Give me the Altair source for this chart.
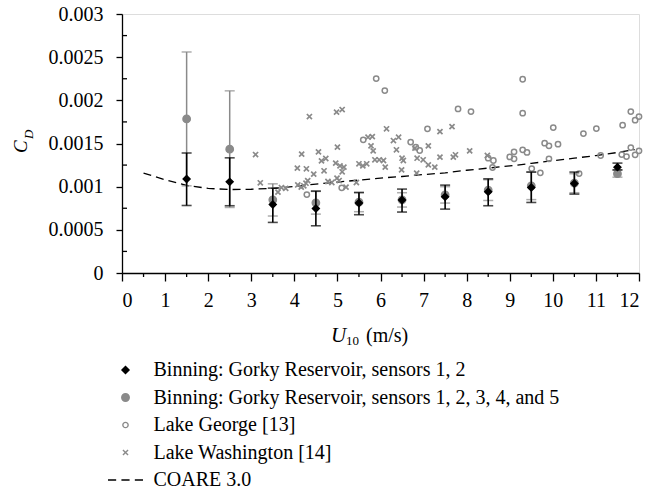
import altair as alt
import pandas as pd

# ---------------- data ----------------
S1 = "Binning: Gorky Reservoir, sensors 1, 2"
S2 = "Binning: Gorky Reservoir, sensors 1, 2, 3, 4, and 5"
S3 = "Lake George [13]"
S4 = "Lake Washington [14]"
S5 = "COARE 3.0"

bin_u = [1.5, 2.5, 3.5, 4.5, 5.5, 6.5, 7.5, 8.5, 9.5, 10.5, 11.5]

b12_c = [0.001088, 0.001056, 0.000794, 0.000748, 0.000810, 0.000845, 0.000883, 0.000941, 0.000990, 0.001037, 0.001226]
b12_lo = [0.000782, 0.000779, 0.000586, 0.000547, 0.000675, 0.000706, 0.000740, 0.000779, 0.000817, 0.000914, 0.001195]
b12_hi = [0.001390, 0.001334, 0.000983, 0.000949, 0.000933, 0.000972, 0.001018, 0.001091, 0.001169, 0.001169, 0.001273]

b5_c = [0.001785, 0.001434, 0.000848, 0.000813, 0.000820, 0.000848, 0.000905, 0.000960, 0.001010, 0.001040, 0.001150]
b5_lo = [0.001010, 0.000759, 0.000660, 0.000682, 0.000710, 0.000764, 0.000810, 0.000840, 0.000850, 0.000930, 0.001110]
b5_hi = [0.002560, 0.002110, 0.001033, 0.000945, 0.000930, 0.000930, 0.001000, 0.001080, 0.001170, 0.001150, 0.001190]

george_u = [4.29, 5.10, 5.60, 5.90, 6.10, 6.70, 6.82, 6.91, 7.09, 7.80, 8.10, 8.50, 8.62, 8.60,
            9.00, 9.10, 9.10, 9.30, 9.30, 9.30, 9.40, 9.51, 9.71, 9.81, 9.91, 10.12, 9.91, 10.01,
            10.61, 10.71, 11.01, 11.11, 11.62, 11.81, 11.91, 12.00, 11.60, 11.71, 11.81, 11.91, 12.00]
george_c = [0.000909, 0.000987, 0.001542, 0.002252, 0.002113, 0.001516, 0.001458, 0.001419, 0.001670,
            0.001901, 0.001870, 0.001330, 0.001303, 0.001222, 0.001345, 0.001322, 0.001403, 0.002244,
            0.001851, 0.001427, 0.001396, 0.001210, 0.001160, 0.001504, 0.001473, 0.001492, 0.001322,
            0.001685, 0.001152, 0.001615, 0.001673, 0.001361, 0.001712, 0.001870, 0.001770, 0.001812,
            0.001372, 0.001349, 0.001453, 0.001369, 0.001415]

wash_u = [3.10, 3.21, 3.62, 3.70, 3.80, 4.07, 4.08, 4.16, 4.22, 4.27, 4.31, 4.17, 4.28, 4.35, 4.45,
          4.56, 4.63, 4.69, 4.73, 4.78, 4.87, 4.96, 5.00, 4.98, 5.11, 5.06, 5.15, 5.11, 4.99, 5.04,
          5.20, 5.44, 5.50, 5.59, 5.68, 5.71, 5.81, 5.78, 5.83, 5.87, 5.97, 6.07, 6.11, 6.14, 6.30,
          6.42, 6.37, 6.50, 6.53, 6.49, 6.80, 6.85, 6.84, 6.99, 7.11, 7.26, 7.11, 7.38, 7.66, 7.38,
          7.69, 7.74, 8.07, 8.48]
wash_c = [0.001372, 0.001045, 0.000937, 0.000990, 0.000980, 0.001215, 0.001020, 0.000995, 0.001010,
          0.001040, 0.001070, 0.001377, 0.001207, 0.001812, 0.001145, 0.001403, 0.001299, 0.001184,
          0.001326, 0.001060, 0.001048, 0.001273, 0.001458, 0.001863, 0.001893, 0.001241, 0.001226,
          0.001172, 0.001099, 0.001071, 0.000995, 0.001048, 0.001265, 0.001241, 0.001265, 0.001573,
          0.001580, 0.001473, 0.001415, 0.001311, 0.001311, 0.001303, 0.001226, 0.001670, 0.001534,
          0.001573, 0.001427, 0.001330, 0.001303, 0.001195, 0.001446, 0.001330, 0.001157, 0.001311,
          0.001253, 0.001226, 0.001473, 0.001638, 0.001696, 0.001342, 0.001342, 0.001369, 0.001415,
          0.001361]

coare_u = [0.5, 1.0, 1.5, 2.0, 2.5, 3.0, 3.5, 4.0, 4.5, 5.0, 5.5, 6.0, 6.5, 7.0, 7.5, 8.0, 8.5,
           9.0, 9.5, 10.0, 10.5, 11.0, 11.5, 11.9]
coare_c = [0.001157, 0.001080, 0.001014, 0.000980, 0.000967, 0.000970, 0.000980, 0.001002, 0.001030,
           0.001053, 0.001076, 0.001100, 0.001118, 0.001140, 0.001160, 0.001190, 0.001215, 0.001240,
           0.001270, 0.001300, 0.001330, 0.001360, 0.001396, 0.001430]

x_major = list(range(0, 13))
x_minor = [0.5, 1.5, 2.5, 3.5, 4.5, 5.5, 6.5, 7.5, 8.5, 9.5, 10.5, 11.5]
y_major = [0, 0.0005, 0.001, 0.0015, 0.002, 0.0025, 0.003]
y_minor = [0.00025, 0.00075, 0.00125, 0.00175, 0.00225, 0.00275]

# ---------------- style ----------------
FONT = "Liberation Serif"
GREY = "#8a8a8a"
W, H = 517, 259

series_names = [S1, S2, S3, S4, S5]
series_shapes = ["diamond", "circle", "circle", "M-1,-1L1,1M-1,1L1,-1",
                 "M-3,0H-1.6M-0.7,0H0.7M1.6,0H3"]
series_fill = ["#000000", GREY, "transparent", "transparent", "transparent"]
series_stroke = ["#000000", GREY, GREY, GREY, "#000000"]
series_size = [50, 56, 28, 26, 136]

xscale = alt.Scale(domain=[0, 12], nice=False, zero=False)
yscale = alt.Scale(domain=[0, 0.003], nice=False)

xaxis = alt.Axis(values=x_major, tickSize=8, labelPadding=9, grid=False, title=None,
                 labelFontSize=20, labelFont=FONT, labelColor="black",
                 domainColor="black", tickColor="black", domainWidth=1.3, tickWidth=1.3)
yaxis = alt.Axis(values=y_major, tickSize=6, labelPadding=13, grid=False, title=None,
                 format=".4~f", labelFontSize=20, labelFont=FONT, labelColor="black",
                 domainColor="black", tickColor="black", domainWidth=1.3, tickWidth=1.3)

X = lambda f: alt.X(f, type="quantitative", scale=xscale, axis=xaxis)
Y = lambda f: alt.Y(f, type="quantitative", scale=yscale, axis=yaxis)

legend = alt.Legend(title=None, orient="none", legendX=-6.5, legendY=346, direction="vertical",
                    labelFont=FONT, labelFontSize=20, labelColor="black", labelOffset=18,
                    symbolOffset=0, padding=0, rowPadding=7.5, symbolStrokeWidth=1.4,
                    labelLimit=700)

def enc_series():
    return dict(
        shape=alt.Shape("series:N", scale=alt.Scale(domain=series_names, range=series_shapes), legend=legend),
        fill=alt.Fill("series:N", scale=alt.Scale(domain=series_names, range=series_fill), legend=legend),
        stroke=alt.Stroke("series:N", scale=alt.Scale(domain=series_names, range=series_stroke), legend=legend),
        size=alt.Size("series:N", scale=alt.Scale(type="ordinal", domain=series_names, range=series_size),
                      legend=legend),
    )

wash_df = pd.DataFrame({"u": wash_u, "c": wash_c, "series": S4})
george_df = pd.DataFrame({"u": george_u, "c": george_c, "series": S3})
b5_df = pd.DataFrame({"u": bin_u, "c": b5_c, "lo": b5_lo, "hi": b5_hi, "series": S2})
b12_df = pd.DataFrame({"u": bin_u, "c": b12_c, "lo": b12_lo, "hi": b12_hi, "series": S1})
coare_df = pd.DataFrame({"u": coare_u, "c": coare_c})

def points(df, sw=1.3):
    return alt.Chart(df).mark_point(opacity=1, strokeWidth=sw).encode(
        x=X("u"), y=Y("c"), **enc_series())

def errbars(df, color, width):
    rule = alt.Chart(df).mark_rule(color=color, strokeWidth=width).encode(
        x=X("u"), y=Y("lo"), y2="hi")
    cap_lo = alt.Chart(df).mark_tick(color=color, orient="horizontal", size=10, thickness=width).encode(
        x=X("u"), y=Y("lo"))
    cap_hi = alt.Chart(df).mark_tick(color=color, orient="horizontal", size=10, thickness=width).encode(
        x=X("u"), y=Y("hi"))
    return rule + cap_lo + cap_hi

coare = alt.Chart(coare_df).mark_line(color="black", strokeDash=[8, 5], strokeWidth=1.3).encode(
    x=X("u"), y=Y("c"))

xminor = alt.Chart(pd.DataFrame({"u": x_minor})).mark_rule(color="black", strokeWidth=1.3).encode(
    x=X("u"), y=alt.value(H), y2=alt.value(H + 4))
yminor = alt.Chart(pd.DataFrame({"c": y_minor})).mark_rule(color="black", strokeWidth=1.3).encode(
    y=Y("c"), x=alt.value(0), x2=alt.value(5))

def label(text, x, y, size, italic=False, angle=0, align="left"):
    return alt.Chart(pd.DataFrame({"t": [text]})).mark_text(
        font=FONT, fontSize=size, fontStyle="italic" if italic else "normal",
        color="black", align=align, baseline="alphabetic", angle=angle).encode(
        text="t:N", x=alt.value(x), y=alt.value(y))

titles = (
    label("U", 209, 327.5, 21, italic=True)
    + label("10", 224, 330.5, 13)
    + label("(m/s)", 244, 327.5, 20)
    + label("C", -95, 139, 19, italic=True, angle=270)
    + label("D", -89, 125, 13, italic=True, angle=270)
)

chart = alt.layer(
    xminor, yminor,
    coare,
    points(wash_df, 1.7), points(george_df, 1.5),
    errbars(b5_df, GREY, 1.5), points(b5_df),
    errbars(b12_df, "black", 1.6), points(b12_df),
    titles,
).properties(
    width=W, height=H,
    padding={"left": 122, "top": 14, "right": 31, "bottom": 219},
    autosize=alt.AutoSizeParams(type="none"),
).configure_view(stroke=None).configure(background="white")

chart.save("out.html", embed_options={"renderer": "svg", "actions": False})
